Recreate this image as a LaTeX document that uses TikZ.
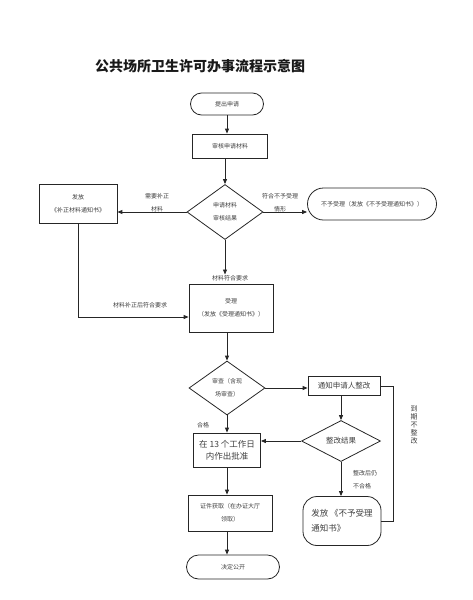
\documentclass[tikz,border=0pt]{standalone}
\usepackage{fontspec}
\newfontfamily\cjk{Noto Sans CJK SC}
\usetikzlibrary{shapes.geometric,shapes.misc,arrows.meta}
\begin{document}
\begin{tikzpicture}[x=1pt,y=-1pt,
 every node/.style={font=\cjk\fontsize{6}{13}\selectfont, text=black!75},
 box/.style={draw=black!85, line width=0.8pt, inner sep=0pt, align=center},
 term/.style={box, rounded rectangle},
 dia/.style={box, diamond},
 arr/.style={-{Triangle[length=5pt,width=4pt]}, line width=0.9pt, draw=black!85},
 ln/.style={line width=0.8pt, draw=black!85},
 lbl/.style={align=center, inner sep=0.5pt}]
\useasboundingbox (0,0) rectangle (472,600);
\node[font=\cjk\fontsize{14}{16}\selectfont\bfseries, text=black!90] (title) at (200,66) {公共场所卫生许可办事流程示意图};

\node[term, minimum width=73, minimum height=22] (s) at (227,104) {提出申请};
\node[box, minimum width=75, minimum height=24] (r) at (230,146) {审核申请材料};
\node[dia, minimum width=76, minimum height=55] (d1) at (225,212) {申请材料\\审核结果};
\node[box, minimum width=78, minimum height=39] (bz) at (78,204) {发放\\《补正材料通知书》};
\node[term, minimum width=129, minimum height=32] (nr) at (372,204) {不予受理（发放《不予受理通知书》）};
\node[lbl] (lneed) at (157,203) {需要补正\\材料};
\node[lbl] (lfit) at (280,203) {符合不予受理\\情形};

\node[box, minimum width=84, minimum height=48] (sl) at (231,308) {受理\\（发放《受理通知书》）};
\node[lbl] (lok) at (230,278) {材料符合要求};
\node[lbl] (lbz) at (140,305) {材料补正后符合要求};

\node[dia, minimum width=76, minimum height=54] (d2) at (227,388) {审查（含现\\场审查）};
\node[box, minimum width=72, minimum height=19, font=\cjk\fontsize{7.5}{10}\selectfont] (tz) at (344,386) {通知申请人整改};
\node[dia, minimum width=79, minimum height=41, font=\cjk\fontsize{7.5}{10}\selectfont] (d3) at (341,441) {整改结果};
\node[box, minimum width=67, minimum height=34, font=\cjk\fontsize{8.5}{12}\selectfont] (t13) at (227,450) {在 13 个工作日\\内作出批准};
\node[lbl] (lhg) at (203,425) {合格};
\node[box, rounded corners=14pt, minimum width=78, minimum height=49, align=left, font=\cjk\fontsize{8.5}{15}\selectfont] (ff) at (342,521) {发放 《不予受理\\通知书》};
\node[lbl, align=left, font=\cjk\fontsize{6}{13}\selectfont] (lbh) at (365,480) {整改后仍\\不合格};
\node[lbl, font=\cjk\fontsize{7}{8}\selectfont] (ldq) at (414,425) {到\\期\\不\\整\\改};

\node[box, minimum width=84, minimum height=36] (zj) at (230,513) {证件获取（在办证大厅\\领取）};
\node[term, minimum width=93, minimum height=24] (jd) at (233,567) {决定公开};

\coordinate (rc) at (393,388);

\draw[arr] (s.south) -- (s.south |- r.north);
\draw[arr] (d1.north |- r.south) -- (d1.north);
\draw[arr] (d1.west) -- (d1.west -| bz.east);
\draw[arr] (d1.east) -- (d1.east -| nr.west);
\draw[arr] (d1.south) -- (d1.south |- lok.north);
\draw[arr] (bz.south) |- ([yshift=-9pt]sl.west);
\draw[arr] (d2.north |- sl.south) -- (d2.north);
\draw[arr] (d2.east) -- (d2.east -| tz.west);
\draw[arr] (d3.north |- tz.south) -- (d3.north);
\draw[arr] (d2.south) -- (d2.south |- t13.north);
\draw[arr] (d3.west) -- (d3.west -| t13.east);
\draw[arr] (d3.south) -- (d3.south |- ff.north);
\draw[ln] (tz.east) -- (tz.east -| rc) -- (rc |- ff.east) -- (ff.east);
\draw[arr] (t13.south) -- (t13.south |- zj.north);
\draw[arr] (t13.south |- zj.south) -- (t13.south |- jd.north);
\end{tikzpicture}
\end{document}
